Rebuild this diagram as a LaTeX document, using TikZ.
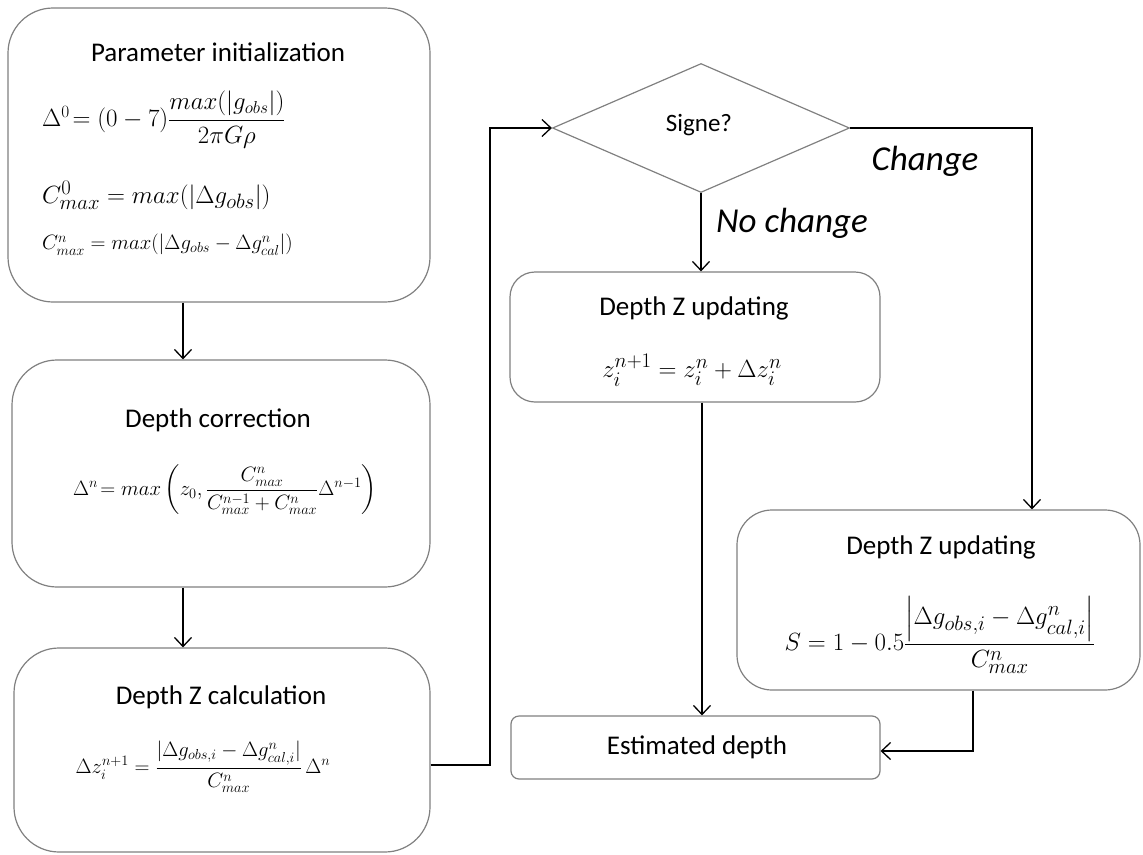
\documentclass[tikz,border=0pt]{standalone}
\usepackage{amsmath}
\usepackage{fontspec}
\setmainfont{Carlito}
\usetikzlibrary{shapes.geometric,arrows.meta}
\begin{document}
\begin{tikzpicture}[x=1pt,y=-1pt,
  box/.style={draw=black!50,line width=1.2pt,rounded corners=#1,inner sep=0pt},
  txt/.style={inner sep=0pt,font=\fontsize{27}{30}\selectfont},
  lbl/.style={inner sep=0pt,font=\fontsize{35}{38}\selectfont\itshape},
  fm/.style={inner sep=0pt,font=\fontsize{#1}{#1}\selectfont},
  arr/.style={line width=1.3pt,-{Straight Barb[length=9pt,width=17pt,line width=1.3pt]}}]
\useasboundingbox (0,0) rectangle (1143,854);
% boxes
\node[box=45pt,minimum width=422pt,minimum height=294pt] (b1) at (219,155) {};
\node[box=45pt,minimum width=418pt,minimum height=227pt] (b2) at (221,473.5) {};
\node[box=45pt,minimum width=416pt,minimum height=204pt] (b3) at (222,750) {};
\node[box=25pt,minimum width=370pt,minimum height=130pt] (b4) at (695,337) {};
\node[box=35pt,minimum width=403pt,minimum height=180pt] (b5) at (938.5,600) {};
\node[box=8pt,minimum width=369pt,minimum height=63pt] (b6) at (695.5,747.5) {};
\node[draw=black!50,line width=1.2pt,diamond,inner sep=0pt,minimum width=297pt,minimum height=129pt] (d) at (701,128) {};
% texts
\node[txt] (t1) at (218,52) {Parameter initialization};
\node[fm=24,anchor=west] (f1) at (42,120) {$\Delta^{0}\!= (0-7)\dfrac{max(|g_{obs}|)}{2\pi G\rho}$};
\node[fm=29,anchor=west] (f2) at (42,195) {$C^{0}_{max} = max(|\Delta g_{obs}|)$};
\node[fm=20,anchor=west] (f3) at (42,245) {$C^{n}_{max} = max(|\Delta g_{obs} - \Delta g^{n}_{cal}|)$};
\node[txt] (t2) at (218,420) {Depth correction};
\node[fm=20] (f4) at (225,490) {$\Delta^{n}\!= max\left(z_0, \dfrac{C^{n}_{max}}{C^{n-1}_{max}+C^{n}_{max}}\Delta^{n-1}\right)$};
\node[txt] (t3) at (221,697) {Depth Z calculation};
\node[fm=20] (f5) at (203,767) {$\Delta z^{n+1}_{i} = \dfrac{|\Delta g_{obs,i} - \Delta g^{n}_{cal,i}|}{C^{n}_{max}}\,\Delta^{n}$};
\node[txt] (t4) at (694,308) {Depth Z updating};
\node[fm=31] (f6) at (692,370) {$z^{n+1}_{i} = z^{n}_{i} + \Delta z^{n}_{i}$};
\node[txt] (t5) at (941,547) {Depth Z updating};
\node[fm=28] (f7) at (940,635) {$S = 1 - 0.5\dfrac{\left|\Delta g_{obs,i} - \Delta g^{n}_{cal,i}\right|}{C^{n}_{max}}$};
\node[txt] (t6) at (697,747) {Estimated depth};
\node[inner sep=0pt,font=\fontsize{25}{28}\selectfont] (t7) at (699,125) {Signe?};
\node[lbl] (lc) at (925,161) {Change};
\node[lbl] (lnc) at (792,223) {No change};
% connectors
\draw[arr] (b1.south -| 183,0) -- (b2.north -| 183,0);
\draw[arr] (b2.south -| 183,0) -- (b3.north -| 183,0);
\coordinate (c1) at (490,765);
\coordinate (c2) at (490,128);
\draw[arr] (b3.east |- c1) -- (c1) -- (c2) -- (d.west);
\draw[arr] (d.south) -- (b4.north -| d.south);
\coordinate (c3) at (1032,128);
\draw[arr] (d.east) -- (c3) -- (b5.north -| c3);
\draw[arr] (b4.south -| 702,0) -- (b6.north -| 702,0);
\coordinate (c4) at (973,751);
\draw[arr] (b5.south -| c4) -- (c4) -- (b6.east |- c4);
\end{tikzpicture}
\end{document}
